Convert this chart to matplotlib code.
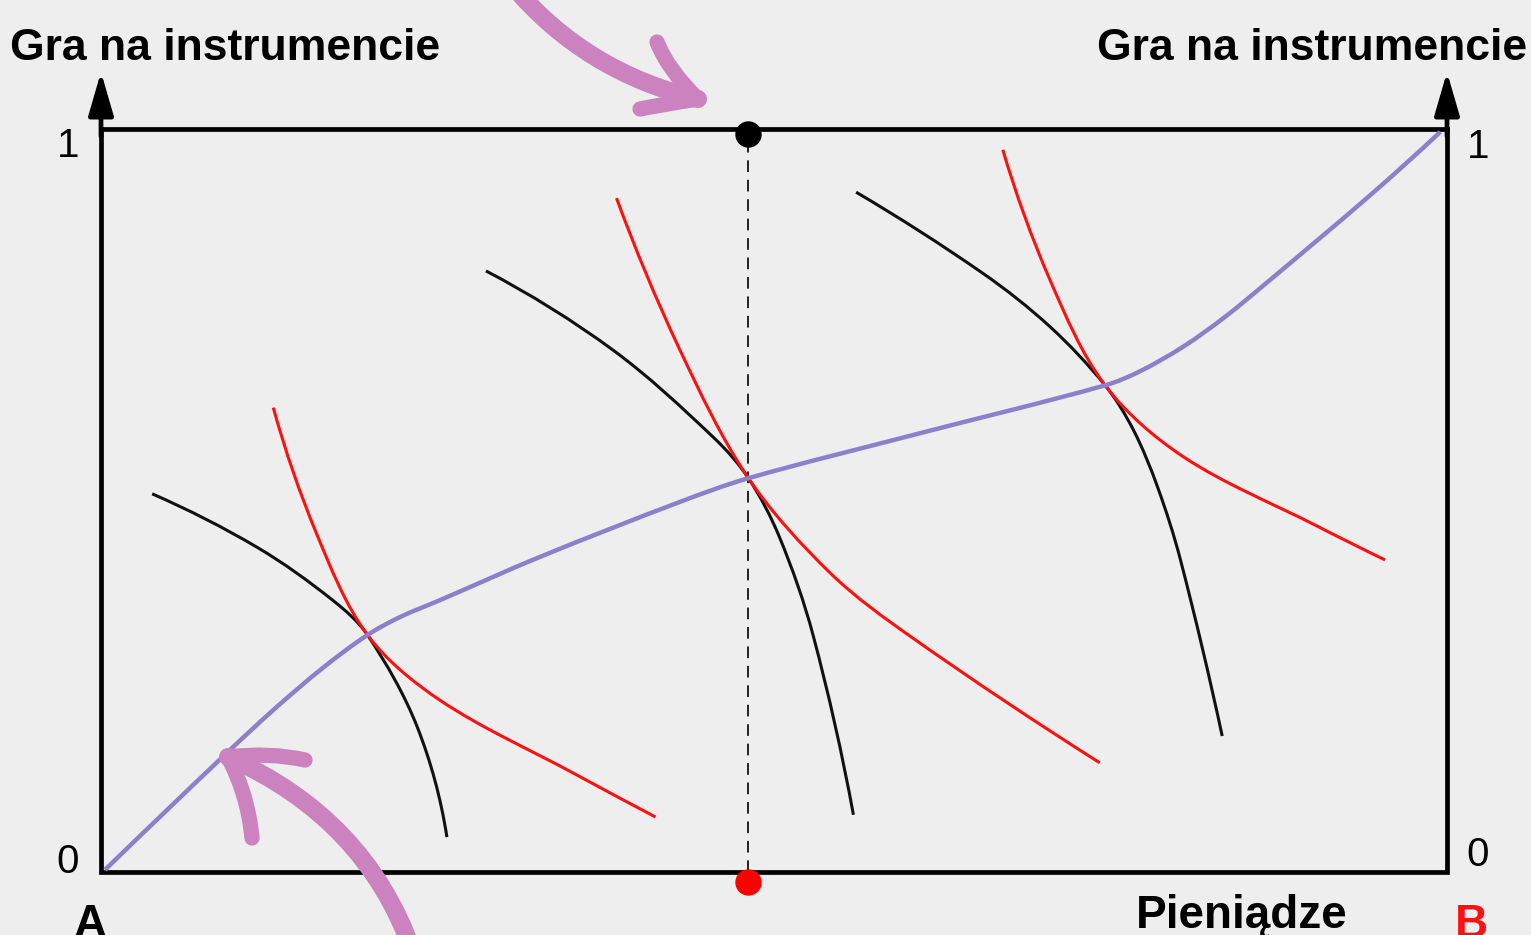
import numpy as np
import matplotlib
matplotlib.use("Agg")
import matplotlib.pyplot as plt
from matplotlib.path import Path
from matplotlib.patches import PathPatch

# ---------------- data (box units: 0..1 on both axes, origin A bottom-left) -------------
contract_x = [0.003, 0.091, 0.128, 0.165, 0.198, 0.222, 0.252, 0.326, 0.430,
              0.481, 0.603, 0.746, 0.772, 0.804, 0.835, 0.866, 0.943, 0.995]
contract_y = [0.003, 0.156, 0.218, 0.275, 0.319, 0.343, 0.366, 0.424, 0.498,
              0.530, 0.588, 0.655, 0.674, 0.707, 0.747, 0.793, 0.911, 0.996]

a1_x = [0.038, 0.116, 0.172, 0.198, 0.235, 0.257]
a1_y = [0.509, 0.437, 0.366, 0.319, 0.195, 0.047]
b1_x = [0.128, 0.160, 0.198, 0.252, 0.351, 0.412]
b1_y = [0.625, 0.456, 0.319, 0.231, 0.133, 0.074]

a2_x = [0.286, 0.380, 0.455, 0.481, 0.504, 0.529, 0.559]
a2_y = [0.809, 0.703, 0.585, 0.530, 0.451, 0.319, 0.077]
b2_x = [0.383, 0.430, 0.481, 0.542, 0.603, 0.742]
b2_y = [0.907, 0.703, 0.530, 0.402, 0.315, 0.147]

a3_x = [0.561, 0.655, 0.705, 0.746, 0.767, 0.785, 0.802, 0.833]
a3_y = [0.915, 0.806, 0.734, 0.655, 0.595, 0.518, 0.420, 0.183]
b3_x = [0.670, 0.705, 0.746, 0.804, 0.903, 0.954]
b3_y = [0.972, 0.797, 0.655, 0.559, 0.466, 0.420]

allocation_x = 0.481          # dashed vertical line / marked allocation
y_label = "Gra na instrumencie"
x_label = "Pieniądze"
tick_labels = ["0", "1"]
origin_a, origin_b = "A", "B"

# ---------------- layout ----------------
W, H = 1531, 935
L, R, T, B = 101, 1447, 129, 872

fig = plt.figure(figsize=(W / 100, H / 100), dpi=100)
fig.patch.set_facecolor("#eeeeee")
ax = fig.add_axes([L / W, (H - B) / H, (R - L) / W, (B - T) / H])
ax.set_xlim(0, 1)
ax.set_ylim(0, 1)
ax.axis("off")

SX, SY = (R - L), (B - T)   # box size in pixels (for isotropic smoothing)


def px(x, y):
    """pixel position -> box units"""
    return (x - L) / (R - L), (B - y) / (B - T)


def smooth_path(xs, ys):
    """Hermite curve through the given points (arc-length parametrised tangents)."""
    P = np.column_stack([np.asarray(xs) * SX, np.asarray(ys) * SY]).astype(float)
    n = len(P)
    d = np.hypot(*np.diff(P, axis=0).T)
    m = np.zeros_like(P)
    for k in range(1, n - 1):
        m[k] = (P[k + 1] - P[k - 1]) / (d[k - 1] + d[k])
    m[0] = 2 * (P[1] - P[0]) / d[0] - m[1] if n > 2 else (P[1] - P[0]) / d[0]
    m[-1] = 2 * (P[-1] - P[-2]) / d[-1] - m[-2] if n > 2 else (P[-1] - P[-2]) / d[-1]
    verts = [P[0]]
    codes = [Path.MOVETO]
    for i in range(n - 1):
        c1 = P[i] + m[i] * d[i] / 3.0
        c2 = P[i + 1] - m[i + 1] * d[i] / 3.0
        verts += [c1, c2, P[i + 1]]
        codes += [Path.CURVE4] * 3
    verts = np.array(verts) / np.array([SX, SY])
    return Path(verts, codes)


def draw_curve(xs, ys, color, lw, z):
    patch = PathPatch(smooth_path(xs, ys), facecolor="none", edgecolor=color,
                      lw=lw, zorder=z, capstyle="butt", clip_on=False)
    ax.add_patch(patch)


# box frame
ax.plot([0, 0, 1, 1], [1.0, 0, 0, 1.0], color="black", lw=3.4, solid_joinstyle="miter",
        clip_on=False, zorder=5)
ax.plot([0, 1], [1, 1], color="black", lw=3.4, clip_on=False, zorder=5,
        solid_capstyle="projecting")
tip_y = px(0, 72)[1]
for xx in (0, 1):
    ax.annotate("", xy=(xx, tip_y), xytext=(xx, 0.99),
                arrowprops=dict(arrowstyle="-|>,head_length=1.1,head_width=0.32",
                                lw=3.4, color="black", mutation_scale=24,
                                shrinkA=0, shrinkB=0),
                annotation_clip=False, zorder=5)

# dashed allocation line
ax.plot([allocation_x, allocation_x], [0, 1], color="#222222", lw=1.4,
        dashes=(6, 4), zorder=3)

# indifference curves
for xs, ys in [(a1_x, a1_y), (a2_x, a2_y), (a3_x, a3_y)]:
    draw_curve(xs, ys, "#111111", 2.2, 4)
for xs, ys in [(b1_x, b1_y), (b2_x, b2_y), (b3_x, b3_y)]:
    draw_curve(xs, ys, "#ff1010", 2.2, 4)

# contract curve
draw_curve(contract_x, contract_y, "#8b80cc", 3.2, 6)

# dots
ax.plot([allocation_x], [px(0, 134)[1]], "o", color="black", ms=18, zorder=7, clip_on=False)
ax.plot([allocation_x], [px(0, 882)[1]], "o", color="#ff0000", ms=18, zorder=7, clip_on=False)

# pink hand-drawn arrows
pink = "#cd82c0"


def pink_stroke(points, codes, lw):
    v = [px(*p) for p in points]
    ax.add_patch(PathPatch(Path(v, codes), facecolor="none", edgecolor=pink, lw=lw,
                           capstyle="round", joinstyle="round", zorder=8, clip_on=False))


# top arrow
pink_stroke([(512, -15), (585, 72), (698, 99)], [Path.MOVETO, Path.CURVE3, Path.CURVE3], 13)
pink_stroke([(698, 99), (668, 70), (657, 42)], [Path.MOVETO, Path.CURVE3, Path.CURVE3], 11)
pink_stroke([(698, 99), (665, 104), (640, 109)], [Path.MOVETO, Path.CURVE3, Path.CURVE3], 11)
# bottom arrow
pink_stroke([(412, 950), (365, 818), (228, 757)], [Path.MOVETO, Path.CURVE3, Path.CURVE3], 13)
pink_stroke([(228, 757), (270, 752), (305, 760)], [Path.MOVETO, Path.CURVE3, Path.CURVE3], 11)
pink_stroke([(228, 757), (248, 795), (252, 838)], [Path.MOVETO, Path.CURVE3, Path.CURVE3], 11)

# texts
font = "Liberation Sans"


def ftext(x, y, s, **kw):
    fig.text(x / W, 1 - y / H, s, family=font, **kw)


ftext(10, 60, y_label, fontsize=32, fontweight="bold", ha="left", va="baseline")
ftext(1527, 60, y_label, fontsize=32, fontweight="bold", ha="right", va="baseline")
ftext(68, 146, tick_labels[1], fontsize=29, ha="center", va="center")
ftext(68, 862, tick_labels[0], fontsize=29, ha="center", va="center")
ftext(1478, 147, tick_labels[1], fontsize=29, ha="center", va="center")
ftext(1478, 855, tick_labels[0], fontsize=29, ha="center", va="center")
ftext(1242, 928, x_label, fontsize=33, fontweight="bold", ha="center", va="baseline")
ftext(90, 937, origin_a, fontsize=33, fontweight="bold", ha="center", va="baseline")
ftext(1471, 937, origin_b, fontsize=33, fontweight="bold", ha="center", va="baseline",
      color="#ff1010")

fig.savefig("out.png", dpi=100, facecolor=fig.get_facecolor())
